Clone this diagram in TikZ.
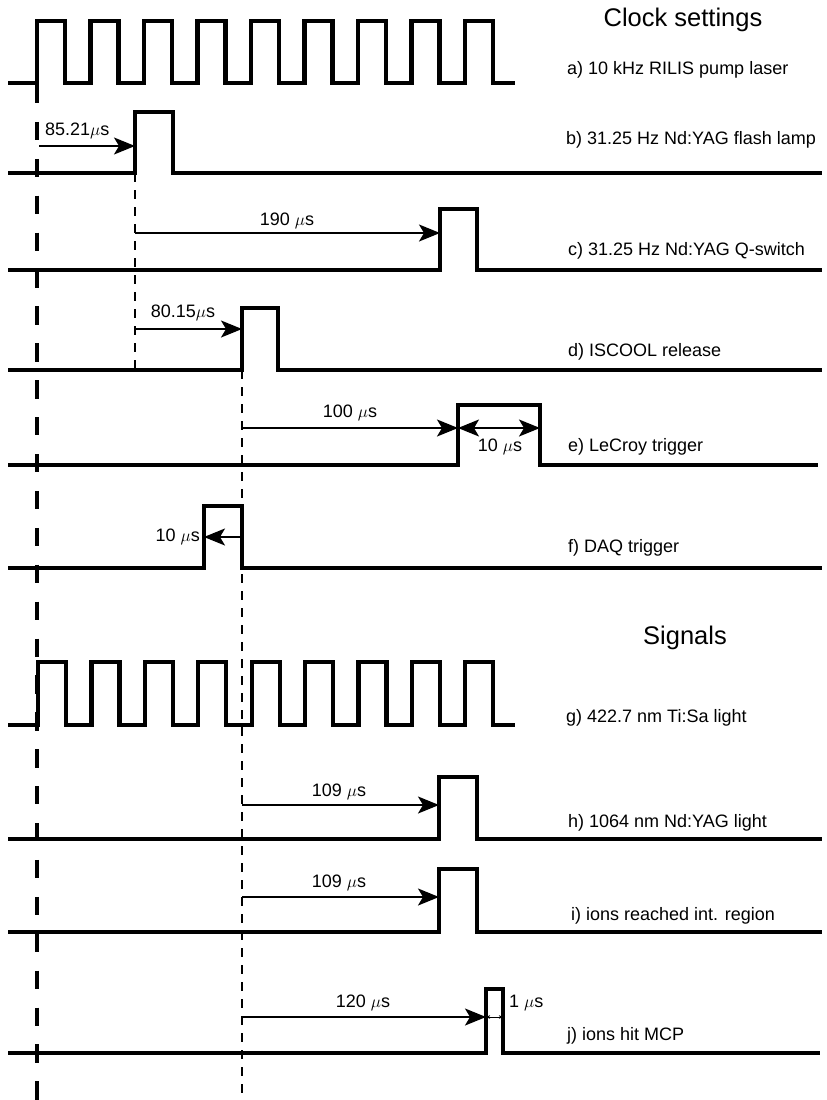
\documentclass[tikz,border=0pt]{standalone}
\usepackage{fontspec}
\setmainfont{Liberation Sans}
\usetikzlibrary{arrows.meta}
\begin{document}
\begin{tikzpicture}[x=1pt,y=-1pt,
  sig/.style={line width=4.2pt, line join=miter},
  bigtip/.tip={Stealth[length=21pt,width=17pt,inset=5pt]},
  smalltip/.tip={Stealth[length=4pt,width=3.5pt,inset=1pt]},
  tarrow/.style={line width=1.6pt, -bigtip},
  darrow/.style={line width=1.6pt, bigtip-bigtip},
  sarrow/.style={line width=0.8pt, smalltip-smalltip},
  lab/.style={inner sep=0pt, anchor=west, font=\fontsize{18}{20}\selectfont},
  tlab/.style={inner sep=0pt, font=\fontsize{18}{20}\selectfont},
  title/.style={inner sep=0pt, font=\fontsize{25.5}{28}\selectfont},
  thickdash/.style={line width=4.6pt, dash pattern=on 18.3pt off 18.6pt},
  thindash/.style={line width=1.6pt, dash pattern=on 9pt off 8pt}]
\useasboundingbox (0,0) rectangle (827,1100);

% reference lines
\draw[thickdash] (37,85) -- (37,1100);
\draw[thindash] (135,173) -- (135,370);
\draw[thindash] (242,370) -- (242,1100);

% a) pump laser
\draw[sig] (8,83) foreach \i in {0,...,8} { -- (37+53.5*\i,83) -- (37+53.5*\i,21) -- (65+53.5*\i,21) -- (65+53.5*\i,83) } -- (515,83);
% b)
\draw[sig] (8,173) -- (135,173) -- (135,112) -- (173,112) -- (173,173) -- (822,173);
% c)
\draw[sig] (8,270) -- (440,270) -- (440,209) -- (477,209) -- (477,270) -- (822,270);
% d)
\draw[sig] (8,370) -- (242,370) -- (242,308) -- (278,308) -- (278,370) -- (822,370);
% e)
\draw[sig] (8,465) -- (458,465) -- (458,405) -- (540,405) -- (540,465) -- (818,465);
% f)
\draw[sig] (8,568) -- (204,568) -- (204,506) -- (242,506) -- (242,568) -- (822,568);
% g)
\draw[sig] (8,725) foreach \i in {0,...,8} { -- (38+53.4*\i,725) -- (38+53.4*\i,662) -- (66+53.4*\i,662) -- (66+53.4*\i,725) } -- (515,725);
% h)
\draw[sig] (8,839) -- (439,839) -- (439,777) -- (477,777) -- (477,839) -- (822,839);
% i)
\draw[sig] (8,932) -- (439,932) -- (439,869) -- (477,869) -- (477,932) -- (822,932);
% j)
\draw[sig] (8,1053) -- (486,1053) -- (486,989) -- (503,989) -- (503,1053) -- (820,1053);

% titles
\node[title] (t1) at (683,20) {Clock settings};
\node[title] (t2) at (685,638) {Signals};

% labels
\node[lab] (la) at (567,70) {a) 10 kHz RILIS pump laser};
\node[lab] (lb) at (566,140) {b) 31.25 Hz Nd:YAG flash lamp};
\node[lab] (lc) at (568,251) {c) 31.25 Hz Nd:YAG Q-switch};
\node[lab] (ld) at (568,352) {d) ISCOOL release};
\node[lab] (le) at (568,447) {e) LeCroy trigger};
\node[lab] (lf) at (568,548) {f) DAQ trigger};
\node[lab] (lg) at (566,718) {g) 422.7 nm Ti:Sa light};
\node[lab] (lh) at (568,823) {h) 1064 nm Nd:YAG light};
\node[lab] (li) at (571,916) {i) ions reached int. region};
\node[lab] (lj) at (567,1036) {j) ions hit MCP};

% arrow end points
\coordinate (a1s) at (39,146);  \coordinate (a1e) at (135,146);
\coordinate (a2s) at (135,233); \coordinate (a2e) at (440,233);
\coordinate (a3s) at (135,329); \coordinate (a3e) at (242,329);
\coordinate (a4s) at (242,428); \coordinate (a4e) at (458,428);
\coordinate (a5e) at (540,428);
\coordinate (a6s) at (242,537); \coordinate (a6e) at (204,537);
\coordinate (a7s) at (242,805); \coordinate (a7e) at (439,805);
\coordinate (a8s) at (242,897); \coordinate (a8e) at (439,897);
\coordinate (a9s) at (242,1017); \coordinate (a9e) at (486,1017);
\coordinate (a10e) at (503,1017);

\draw[tarrow] (a1s) -- (a1e);
\draw[tarrow] (a2s) -- (a2e);
\draw[tarrow] (a3s) -- (a3e);
\draw[tarrow] (a4s) -- (a4e);
\draw[darrow] (a4e) -- (a5e);
\draw[tarrow] (a6s) -- (a6e);
\draw[tarrow] (a7s) -- (a7e);
\draw[tarrow] (a8s) -- (a8e);
\draw[tarrow] (a9s) -- (a9e);
\draw[sarrow] (a9e) -- (a10e);

% arrow labels
\node[tlab, anchor=west] (m1) at (45,131) {85.21$\mu$s};
\node[tlab] (m2) at (287,221) {190 $\mu$s};
\node[tlab] (m3) at (183,313) {80.15$\mu$s};
\node[tlab] (m4) at (350,413) {100 $\mu$s};
\node[tlab] (m5) at (500,447) {10 $\mu$s};
\node[tlab, anchor=east] (m6) at (200,537) {10 $\mu$s};
\node[tlab] (m7) at (339,792) {109 $\mu$s};
\node[tlab] (m8) at (339,883) {109 $\mu$s};
\node[tlab] (m9) at (363,1003) {120 $\mu$s};
\node[tlab, anchor=west] (m10) at (509,1003) {1 $\mu$s};
\end{tikzpicture}
\end{document}
